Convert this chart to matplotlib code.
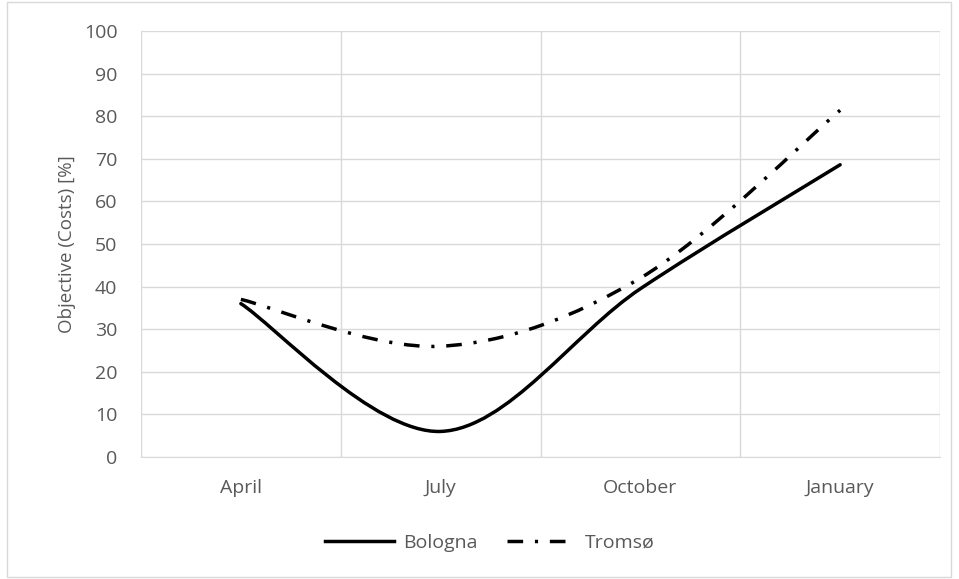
import numpy as np
import matplotlib
matplotlib.use("Agg")
import matplotlib.pyplot as plt
from matplotlib.path import Path
from matplotlib.patches import PathPatch, Rectangle
from matplotlib.lines import Line2D

months = ["April", "July", "October", "January"]
bologna = [36, 6, 39.5, 68.6]
tromso = [37, 26, 42, 81.4]

plt.rcParams['font.family'] = ['Open Sans', 'DejaVu Sans']
GRAY = "#595959"
GRID = "#d9d9d9"


def smoothPath(xs, ys):
    # Excel-style smoothed line: cubic bezier segments, catmull-rom control points
    pts = np.column_stack([xs, ys]).astype(float)
    n = len(pts)
    verts = [pts[0]]
    codes = [Path.MOVETO]
    for i in range(n - 1):
        p0 = pts[i - 1] if i > 0 else pts[i]
        p1 = pts[i]
        p2 = pts[i + 1]
        p3 = pts[i + 2] if i + 2 < n else pts[i + 1]
        c1 = p1 + (p2 - p0) / 6.0
        c2 = p2 - (p3 - p1) / 6.0
        verts += [c1, c2, p2]
        codes += [Path.CURVE4] * 3
    return Path(verts, codes)


fig = plt.figure(figsize=(9.59, 5.79), dpi=100)
fig.patches.append(Rectangle((7 / 959, 2 / 579), 944 / 959, 575 / 579, transform=fig.transFigure,
                             fill=False, edgecolor=GRID, linewidth=1))
ax = fig.add_axes([141 / 959, (579 - 457) / 579, 799 / 959, 426 / 579])

x = np.arange(len(months))
dashdot = (0, (4.5, 3.4, 0.9, 3.4))
lw = 2.5

ax.add_patch(PathPatch(smoothPath(x, bologna), fill=False, edgecolor="black", linewidth=lw,
                       capstyle="round", joinstyle="round"))
ax.add_patch(PathPatch(smoothPath(x, tromso), fill=False, edgecolor="black", linewidth=lw,
                       linestyle=dashdot))

ax.set_xlim(-0.5, len(months) - 0.5)
ax.set_ylim(0, 100)
ax.set_yticks(range(0, 101, 10))
ax.set_xticks(x)
ax.set_xticklabels(months)
ax.set_xticks(np.arange(-0.5, len(months), 1.0), minor=True)

ax.grid(True, which="major", axis="y", color=GRID, linewidth=1)
ax.grid(True, which="minor", axis="x", color=GRID, linewidth=1)
ax.set_axisbelow(True)
for s in ["top", "right", "left"]:
    ax.spines[s].set_visible(False)
ax.spines["bottom"].set_color(GRID)
ax.tick_params(axis="both", which="both", length=0, labelsize=14, labelcolor=GRAY)
ax.tick_params(axis="y", pad=17)
ax.tick_params(axis="x", pad=16)
ax.set_ylabel("Objective (Costs) [%]", fontsize=13.5, color=GRAY)
ax.yaxis.set_label_coords(-0.081, 0.5)

handles = [Line2D([], [], color="black", linewidth=lw),
           Line2D([], [], color="black", linewidth=lw, linestyle=dashdot)]
fig.legend(handles, ["Bologna", "Tromsø"], loc="center", bbox_to_anchor=(490 / 959, 1 - 543 / 579),
           ncol=2, frameon=False, fontsize=14, labelcolor=GRAY, handlelength=3.5,
           handletextpad=0.5, columnspacing=1.5)

fig.savefig("out.png", dpi=100)
